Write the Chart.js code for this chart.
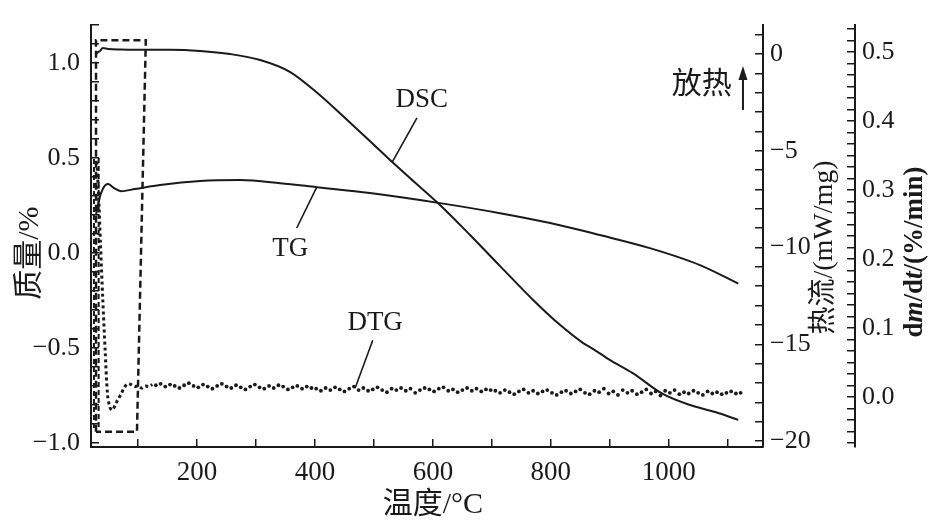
<!DOCTYPE html>
<html lang="zh">
<head>
<meta charset="utf-8">
<title>TG / DSC / DTG</title>
<script src="https://cdn.jsdelivr.net/npm/chart.js@4.4.0/dist/chart.umd.min.js"></script>
<style>
  html, body { margin: 0; padding: 0; background: #fff; }
  #chart { display: block; }
</style>
</head>
<body>
<canvas id="chart" width="930" height="526"></canvas>
<script>
// values, temperature in °C
const tgTemp = [28.5, 33.6, 40.4, 48.8, 59, 70.9, 94.6, 137, 205, 273, 341, 403, 493, 612, 714, 799, 883, 968, 1053, 1118];
const tgMass = [0.20, 0.28, 0.34, 0.363, 0.342, 0.326, 0.337, 0.358, 0.379, 0.384, 0.368, 0.347, 0.316, 0.263, 0.21, 0.158, 0.095, 0.026, -0.063, -0.16];

const dscTemp = [28.5, 31.9, 35.3, 40, 49, 70, 103, 154, 205, 256, 307, 358, 408, 451, 493, 531, 561, 612, 663, 714, 770, 816, 855, 872, 900, 939, 990, 1036, 1079, 1118];
const dscFlow = [0.0, 0.10, 0.16, 0.31, 0.26, 0.23, 0.22, 0.22, 0.16, 0.0, -0.31, -0.93, -2.12, -3.31, -4.50, -5.58, -6.41, -7.80, -9.35, -10.96, -12.71, -14.01, -14.94, -15.25, -15.81, -16.49, -17.57, -18.14, -18.50, -18.91];

// DTG: first the drop at the start, then the scattered points
const dtgStartTemp = [30, 33, 36, 40, 44, 48, 52, 56, 61, 66, 71, 76, 82, 88, 94, 100, 106, 112, 118, 124];
const dtgStartRate = [0.341, 0.289, 0.223, 0.141, 0.067, 0.004, -0.015, -0.019, -0.012, -0.003, 0.004, 0.013, 0.019, 0.018, 0.015, 0.016, 0.013, 0.016, 0.015, 0.018];

const dtgTemp = [
  130, 138, 146, 154, 162, 170, 178, 186, 194, 202, 210, 218, 226, 234, 242, 250, 258, 266, 274, 282,
  290, 298, 306, 314, 322, 330, 338, 346, 354, 362, 370, 378, 386, 394,
  402, 410, 418, 426, 434, 442, 450, 458, 466, 474, 482, 490, 498, 506, 514, 522, 530, 538, 546, 554,
  562, 570, 578, 586, 594, 602, 610, 618, 626, 634, 642, 650, 658, 666, 674, 682, 690, 698,
  706, 714, 722, 730, 738, 746, 754, 762, 770, 778, 786, 794, 802, 810, 818, 826, 834, 842, 850, 858,
  866, 874, 882, 890, 898, 906, 914, 922, 930, 938, 946, 954, 962, 970, 978, 986, 994, 1002, 1010, 1018,
  1026, 1034, 1042, 1050, 1058, 1066, 1074, 1082, 1090, 1098, 1106, 1114, 1122
];
const dtgRate = [
  0.017, 0.019, 0.015, 0.018, 0.016, 0.013, 0.017, 0.020, 0.016, 0.014, 0.018, 0.015, 0.012, 0.016, 0.019, 0.015, 0.013, 0.017, 0.014, 0.011,
  0.015, 0.018, 0.014, 0.012, 0.016, 0.013, 0.017, 0.015, 0.011, 0.014, 0.016, 0.012, 0.015, 0.013,
  0.012, 0.009, 0.013, 0.010, 0.014, 0.011, 0.008, 0.012, 0.015, 0.010, 0.013, 0.009, 0.011, 0.014, 0.010, 0.007, 0.012, 0.010, 0.013, 0.009,
  0.012, 0.006, 0.010, 0.013, 0.011, 0.008, 0.012, 0.014, 0.009, 0.011, 0.007, 0.010, 0.013, 0.009, 0.012, 0.008, 0.011, 0.010,
  0.009, 0.006, 0.010, 0.007, 0.004, 0.008, 0.011, 0.006, 0.009, 0.005, 0.008, 0.010, 0.006, 0.003, 0.007, 0.009, 0.005, 0.008, 0.011, 0.006,
  0.004, 0.009, 0.007, 0.012, 0.005, 0.008, 0.003, 0.010, 0.006, 0.009, 0.004, 0.007, 0.011, 0.005, 0.008, 0.002, 0.009, 0.006, 0.010, 0.004,
  0.007, 0.005, 0.009, 0.006, 0.003, 0.008, 0.005, 0.007, 0.004, 0.006, 0.008, 0.005, 0.006
];

// dashed frame around the start of the run (mass axis units)
const boxTemp = [28.5, 28.5, 113, 98, 28.5];
const boxMass = [-0.94, 1.12, 1.12, -0.94, -0.94];
// dashed strokes at the very start
const hatchTemp = [25, 25, 25, 33, 33];
const hatchMass = [-0.92, 0.5, null, 0.5, -0.92];

const tempLabels = [200, 400, 600, 800, 1000];
const massLabels = [-1.0, -0.5, 0.0, 0.5, 1.0];
const flowLabels = [-20, -15, -10, -5, 0];
const rateLabels = [0.0, 0.1, 0.2, 0.3, 0.4, 0.5];

const INK = "#1a1a1a";
const SERIF = '"Liberation Serif", "Noto Sans CJK SC", serif';

function pts(xs, ys) {
	return xs.map((x, i) => ({ x: x, y: ys[i] }));
}
function steps(from, to, n, div) {
	let out = [];
	for (let k = from; k <= to; k += n) out.push(k / div);
	return out;
}
function near(list, v) {
	return list.some(l => Math.abs(l - v) < 1e-6);
}
function minus(s) {
	return String(s).replace("-", "\u2212");
}
// fixed box sizes, no extra room for half labels
function fixBox(s, size) {
	if (s.isHorizontal()) s.height = size; else s.width = size;
	s.paddingTop = 0;
	s.paddingBottom = 0;
	s.paddingLeft = 0;
	s.paddingRight = 0;
}

function axisY(pos, min, max, minor, labels, fmt, width, pad, weight) {
	return {
		type: "linear",
		position: pos,
		weight: weight,
		min: min,
		max: max,
		afterBuildTicks: s => { s.ticks = minor.map(v => ({ value: v })); },
		afterFit: s => fixBox(s, width),
		border: { display: true, color: INK, width: 2 },
		grid: { drawOnChartArea: false, drawTicks: true, tickLength: -8, color: INK, lineWidth: 1.5 },
		ticks: {
			autoSkip: false,
			padding: pad,
			color: INK,
			font: { family: SERIF, size: 26 },
			callback: v => near(labels, v) ? fmt(v) : ""
		}
	};
}

const notes = [
	{ text: "DSC", t: 581, m: 0.805, from: [573, 0.711], to: [531, 0.479] },
	{ text: "TG", t: 358, m: 0.021, from: [369, 0.132], to: [403, 0.347] },
	{ text: "DTG", t: 502, m: -0.368, from: [498, -0.458], to: [468, -0.711] }
];

const decor = {
	id: "decor",
	afterDraw(chart) {
		const ctx = chart.ctx;
		const { x, yMass, yFlow, yRate } = chart.scales;
		ctx.save();
		ctx.fillStyle = INK;
		ctx.strokeStyle = INK;
		ctx.textAlign = "center";
		ctx.textBaseline = "middle";

		// curve labels with leader lines
		ctx.font = "27px " + SERIF;
		ctx.lineWidth = 1.6;
		notes.forEach(n => {
			ctx.fillText(n.text, x.getPixelForValue(n.t), yMass.getPixelForValue(n.m));
			ctx.beginPath();
			ctx.moveTo(x.getPixelForValue(n.from[0]), yMass.getPixelForValue(n.from[1]));
			ctx.lineTo(x.getPixelForValue(n.to[0]), yMass.getPixelForValue(n.to[1]));
			ctx.stroke();
		});

		// exotherm direction
		ctx.font = "30px " + SERIF;
		ctx.fillText("放热", x.getPixelForValue(1056), yMass.getPixelForValue(0.884));
		let ax = x.getPixelForValue(1126);
		let ay0 = yMass.getPixelForValue(0.753);
		let ay1 = yMass.getPixelForValue(0.984);
		ctx.lineWidth = 2;
		ctx.beginPath();
		ctx.moveTo(ax, ay0);
		ctx.lineTo(ax, ay1 + 10);
		ctx.stroke();
		ctx.beginPath();
		ctx.moveTo(ax, ay1);
		ctx.lineTo(ax - 4.5, ay1 + 14);
		ctx.lineTo(ax + 4.5, ay1 + 14);
		ctx.closePath();
		ctx.fill();

		// axis titles
		function vText(parts, cx, cy, font) {
			ctx.save();
			ctx.translate(cx, cy);
			ctx.rotate(-Math.PI / 2);
			ctx.textAlign = "left";
			let w = 0;
			parts.forEach(p => { ctx.font = (p.i ? "italic " : "") + font; w += ctx.measureText(p.t).width; });
			let px = -w / 2;
			parts.forEach(p => {
				ctx.font = (p.i ? "italic " : "") + font;
				ctx.fillText(p.t, px, 0);
				px += ctx.measureText(p.t).width;
			});
			ctx.restore();
		}
		ctx.font = "30px " + SERIF;
		ctx.fillText("温度/°C", x.getPixelForValue(600), x.bottom - 21);
		vText([{ t: "质量/%" }], yMass.left + 30, yMass.getPixelForValue(0), "30px " + SERIF);
		vText([{ t: "热流/(mW/mg)" }], yFlow.left + 62, yFlow.getPixelForValue(-10), "28px " + SERIF);
		vText([{ t: "d" }, { t: "m", i: true }, { t: "/d" }, { t: "t", i: true }, { t: "/(%/min)" }],
			yRate.left + 60, yRate.getPixelForValue(0.21), "bold 27px " + SERIF);
		ctx.restore();
	}
};

function createChart() {
	let ctx = document.getElementById("chart");
	let data = {
		datasets: [{
			label: "DSC",
			data: pts(dscTemp, dscFlow),
			yAxisID: "yFlow",
			borderColor: INK,
			borderWidth: 2,
			pointRadius: 0,
			cubicInterpolationMode: "monotone"
		}, {
			label: "TG",
			data: pts(tgTemp, tgMass),
			yAxisID: "yMass",
			borderColor: INK,
			borderWidth: 2,
			pointRadius: 0,
			cubicInterpolationMode: "monotone"
		}, {
			label: "DTG start",
			data: pts(dtgStartTemp, dtgStartRate),
			yAxisID: "yRate",
			borderColor: INK,
			borderWidth: 3,
			borderDash: [3, 3],
			pointRadius: 0,
			tension: 0.3
		}, {
			label: "DTG",
			data: pts(dtgTemp, dtgRate),
			yAxisID: "yRate",
			showLine: false,
			pointRadius: 1.9,
			pointBackgroundColor: INK,
			pointBorderWidth: 0
		}, {
			label: "frame",
			data: pts(boxTemp, boxMass),
			yAxisID: "yMass",
			borderColor: INK,
			borderWidth: 2.5,
			borderDash: [7, 4],
			pointRadius: 0,
			tension: 0
		}, {
			label: "hatch",
			data: pts(hatchTemp, hatchMass),
			yAxisID: "yMass",
			borderColor: INK,
			borderWidth: 2,
			borderDash: [5, 3],
			pointRadius: 0,
			spanGaps: false,
			tension: 0
		}]
	};
	let options = {
		responsive: false,
		animation: false,
		devicePixelRatio: 1,
		layout: { padding: { top: 25, left: 0, right: 0, bottom: 0 } },
		plugins: { legend: { display: false }, tooltip: { enabled: false } },
		scales: {
			x: {
				type: "linear",
				position: "bottom",
				min: 20,
				max: 1160,
				afterBuildTicks: s => { s.ticks = steps(100, 1100, 100, 1).map(v => ({ value: v })); },
				afterFit: s => fixBox(s, 79),
				border: { display: true, color: INK, width: 2 },
				grid: { drawOnChartArea: false, drawTicks: true, tickLength: -8, color: INK, lineWidth: 1.5 },
				ticks: {
					autoSkip: false,
					maxRotation: 0,
					padding: 18,
					color: INK,
					font: { family: SERIF, size: 27 },
					callback: v => near(tempLabels, v) ? String(v) : ""
				}
			},
			yMass: axisY("left", -1.02, 1.2, steps(-10, 12, 1, 10), massLabels, v => minus(v.toFixed(1)), 91, 19, 0),
			yFlow: axisY("right", -20.31, 1.5, steps(-20, 1, 1, 1), flowLabels, v => minus(Math.round(v)), 92, 15, 0),
			yRate: axisY("right", -0.0725, 0.539, steps(-4, 32, 1, 60), rateLabels, v => v.toFixed(1), 75, 15, 1)
		}
	};
	return new Chart(ctx, { type: "line", data: data, options: options, plugins: [decor] });
}

createChart();
</script>
</body>
</html>
